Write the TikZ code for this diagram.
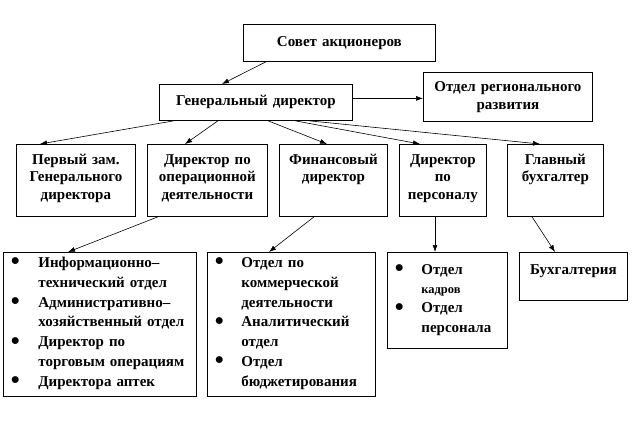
\documentclass[tikz,border=0pt]{standalone}
\usepackage{fontspec}
\setmainfont{Liberation Serif}
\usepackage{graphicx}
\usepackage{tikz}
\usetikzlibrary{arrows.meta}

\newcommand{\blt}{\makebox[24pt]{\raisebox{-2.5pt}{\scalebox{1.7}{\textbullet}}}}

\begin{document}
\begin{tikzpicture}[x = 1pt, y = -1pt, line width = 0.8pt,
                        box/.style = {draw, inner sep = 0pt, anchor = north west, align = center,
                                      font = \bfseries\fontsize{15}{17.5}\selectfont},
                        list/.style = {draw, inner sep = 0pt, anchor = north west, align = left,
                                       font = \bfseries\fontsize{15}{19.8}\selectfont},
                        arr/.style = {-{Latex[length = 7pt, width = 5pt]}, line width = 0.6pt}]
      \useasboundingbox (0, 0) rectangle (639, 420);
      % top levels
      \node [box, text width = 192pt, minimum height = 37pt] (sovet) at (243, 24){Совет акционеров};
      \node [box, text width = 193pt, minimum height = 36pt] (gen) at (159, 84){Генеральный директор};
      \node [box, text width = 169pt, minimum height = 49pt] (region) at (423, 72){Отдел регионального\\развития};
      % directors
      \node [box, text width = 119pt, text height = 20pt, text depth = 52pt] (perv) at (16, 144){Первый зам.\\Генерального\\директора};
      \node [box, text width = 120pt, text height = 20pt, text depth = 52pt] (dirop) at (147, 144){Директор по\\операционной\\деятельности};
      \node [box, text width = 108pt, text height = 20pt, text depth = 52pt] (fin) at (279, 144){Финансовый\\директор};
      \node [box, text width = 87pt, text height = 20pt, text depth = 52pt] (dirpers) at (399, 144){Директор\\по\\персоналу};
      \node [box, text width = 96pt, text height = 20pt, text depth = 52pt] (glav) at (507, 144){Главный\\бухгалтер};
      % departments
      \node [list, text width = 193pt, text height = 15pt, text depth = 129pt] (opdep) at (3, 252){%
        \begin{tabular}[t]{@{}p{35pt}@{}l@{}}
          \blt & Информационно–\\
               & технический отдел\\
          \blt & Административно–\\
               & хозяйственный отдел\\
          \blt & Директор по\\
               & торговым операциям\\
          \blt & Директора аптек
        \end{tabular}};
      \node [list, text width = 168pt, text height = 15pt, text depth = 129pt] (findep) at (207, 252){%
        \begin{tabular}[t]{@{}p{34pt}@{}l@{}}
          \blt & Отдел по\\
               & коммерческой\\
               & деятельности\\
          \blt & Аналитический\\
               & отдел\\
          \blt & Отдел\\
               & бюджетирования
        \end{tabular}};
      \node [list, text width = 120pt, text height = 22pt, text depth = 74pt,
             font = \bfseries\fontsize{15}{19.2}\selectfont] (persdep) at (387, 252){%
        \begin{tabular}[t]{@{}p{34pt}@{}l@{}}
          \blt & Отдел\\
               & {\fontsize{12.5}{19.2}\selectfont кадров}\\
          \blt & Отдел\\
               & персонала
        \end{tabular}};
      \node [box, text width = 108pt, text height = 22pt, text depth = 26pt] (buh) at (519, 252){Бухгалтерия};
      % connectors
      \draw [arr] ([xshift = 23pt]sovet.south west) -- ([xshift = 63pt]gen.north west);
      \draw [arr] ([yshift = 4pt]gen.east) -- ([yshift = 4pt]gen.east -| region.west);
      \draw [arr] ([xshift = 15pt]gen.south west) -- ([xshift = 24pt]perv.north west);
      \draw [arr] ([xshift = 59pt]gen.south west) -- ([xshift = 38pt]dirop.north west);
      \draw [arr] ([xshift = 109pt]gen.south west) -- ([xshift = 48pt]fin.north west);
      \draw [arr] ([xshift = 136pt]gen.south west) -- ([xshift = 21pt]dirpers.north west);
      \draw [arr] ([xshift = 150pt]gen.south west) -- ([xshift = 33pt]glav.north west);
      \draw [arr] ([xshift = 11pt]dirop.south west) -- ([xshift = 65pt]opdep.north west);
      \draw [arr] ([xshift = 35pt]fin.south west) -- ([xshift = 62pt]findep.north west);
      \draw [arr] ([xshift = 36pt]dirpers.south west) -- ([xshift = 36pt]dirpers.south west |- persdep.north);
      \draw [arr] ([xshift = 25pt]glav.south west) -- ([xshift = 36pt]buh.north west);
    \end{tikzpicture}
\end{document}
